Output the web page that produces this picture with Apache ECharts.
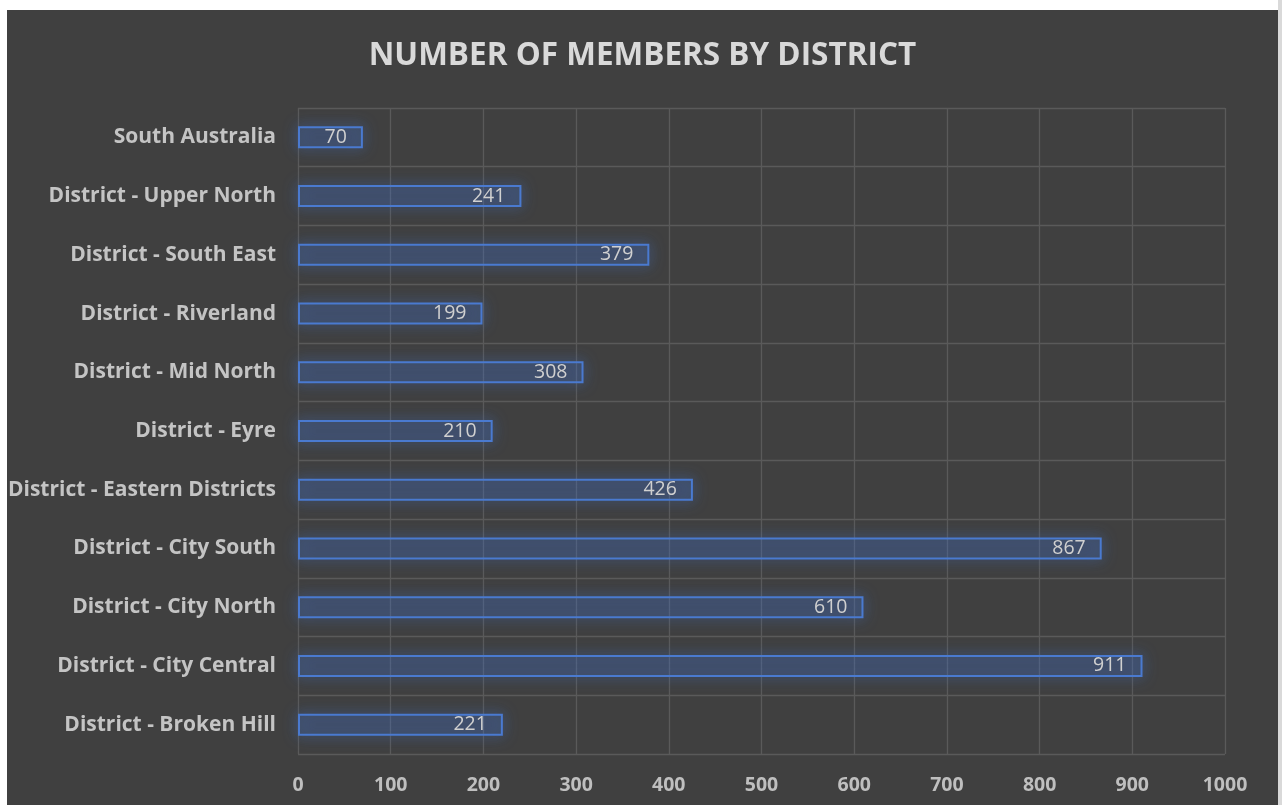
<!DOCTYPE html>
<html>
<head>
<meta charset="utf-8">
<script src="https://cdn.jsdelivr.net/npm/echarts@6/dist/echarts.min.js"></script>
<style>
html,body{margin:0;padding:0;background:#ffffff;width:1282px;height:805px;overflow:hidden;}
#wrap{position:absolute;left:7px;top:10px;width:1271px;height:800px;background:#404040;}
#edge{position:absolute;left:1278px;top:0;width:4px;height:805px;background:#d9d9d9;}
#chart{width:1271px;height:800px;}
</style>
</head>
<body>
<div id="edge"></div>
<div id="wrap"><div id="chart"></div></div>
<script>
const titleText = 'NUMBER OF MEMBERS BY DISTRICT';
const categories = [
  'District - Broken Hill',
  'District - City Central',
  'District - City North',
  'District - City South',
  'District - Eastern Districts',
  'District - Eyre',
  'District - Mid North',
  'District - Riverland',
  'District - South East',
  'District - Upper North',
  'South Australia'
];
const members = [221, 911, 610, 867, 426, 210, 308, 199, 379, 241, 70];
const xMin = 0, xMax = 1000, xStep = 100;

const chart = echarts.init(document.getElementById('chart'));
const FONT = '"Open Sans", sans-serif';
chart.setOption({
  backgroundColor: '#404040',
  animation: false,
  title: {
    text: titleText,
    left: 'center',
    top: 25,
    textStyle: {color: '#d9d9d9', fontSize: 31.5, fontWeight: 'bold', fontFamily: FONT}
  },
  grid: {left: 291, right: 53, top: 98, bottom: 56, containLabel: false, outerBoundsMode: 'none'},
  xAxis: {
    type: 'value', min: xMin, max: xMax, interval: xStep,
    axisLine: {show: false}, axisTick: {show: false},
    axisLabel: {color: '#bfbfbf', fontSize: 19.5, fontWeight: 'bold', fontFamily: FONT, margin: 21,
      formatter: function (v) { return String(v); }},
    splitLine: {show: true, lineStyle: {color: '#5a5a5a', width: 1.3}}
  },
  yAxis: {
    type: 'category', data: categories,
    axisLine: {show: false}, axisTick: {show: false},
    axisLabel: {color: '#c4c4c4', fontSize: 21, fontWeight: 'bold', fontFamily: FONT, margin: 22},
    splitLine: {show: true, lineStyle: {color: '#5a5a5a', width: 1.3}}
  },
  series: [{
    type: 'bar',
    data: members,
    barWidth: 22,
    itemStyle: {
      color: 'rgba(68,114,196,0.16)',
      borderColor: '#4a7ad0',
      borderWidth: 2,
      shadowColor: 'rgba(68,114,196,1)',
      shadowBlur: 14
    },
    label: {
      show: true, position: 'insideRight', distance: 16,
      color: '#d0d0d0', fontSize: 19.5, fontFamily: FONT
    }
  }]
});
</script>
</body>
</html>
